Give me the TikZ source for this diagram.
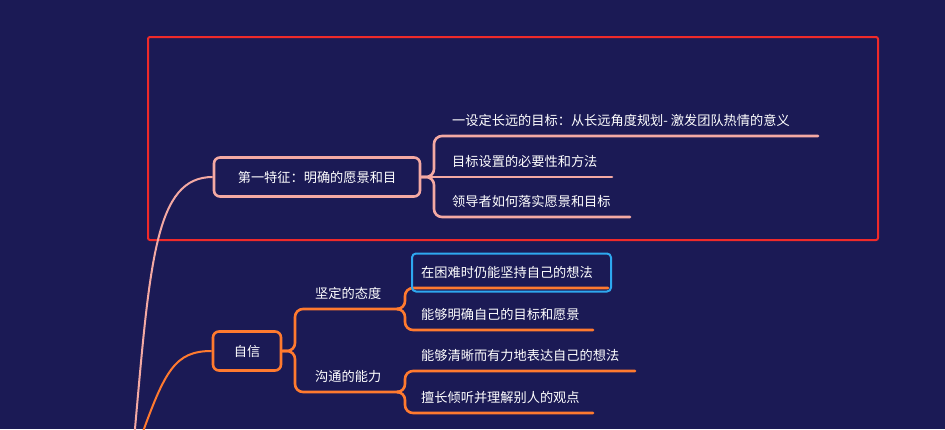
\documentclass[tikz,border=0pt]{standalone}
\usepackage{fontspec}
\newfontfamily\cjk{Noto Sans CJK SC}
\definecolor{bg}{HTML}{1B1A55}
\definecolor{pk}{HTML}{F4A9A3}
\definecolor{org}{HTML}{FF7A2F}
\definecolor{rd}{HTML}{F02A2A}
\definecolor{bl}{HTML}{2EA8F0}
\tikzset{
  lbl/.style={text=white,font=\cjk\fontsize{13.2}{15}\selectfont,anchor=south west,inner sep=0pt},
  pkl/.style={draw=pk,line width=2.6pt,line cap=round,rounded corners=8pt},
  orl/.style={draw=org,line width=2.6pt,line cap=round,rounded corners=8pt},
  topic/.style={rounded corners=6pt,line width=2.6pt,text=white,font=\cjk\fontsize{13.2}{15}\selectfont,minimum height=39pt,fill=bg}
}
\begin{document}
\begin{tikzpicture}[x=1pt,y=-1pt]
\fill[bg] (0,0) rectangle (945,429);
\useasboundingbox (0,0) rectangle (945,429);
\draw[rd,line width=2pt,rounded corners=2pt] (148,37) rectangle (878,240);
% pink branch
\coordinate (p0) at (134,440);
\coordinate (o0) at (140,440);
\node[topic,draw=pk,minimum width=206pt] (n1) at (317,177) {第一特征：明确的愿景和目};
\draw[pk,line width=2pt] (p0) .. controls (150,260) and (155,177) .. (n1.west);
\coordinate (a1) at (818,136);\coordinate (a2) at (612,177);\coordinate (a3) at (630,217);
\draw[pkl] (n1.east) -- (434,177) |- (a1);
\draw[pkl] (n1.east) -- (a2);
\draw[pkl] (n1.east) -- (434,177) |- (a3);
\node[lbl] (t1) at (452,127) {一设定长远的目标：从长远角度规划- 激发团队热情的意义};
\node[lbl] (t2) at (452,168) {目标设置的必要性和方法};
\node[lbl] (t3) at (452,208) {领导者如何落实愿景和目标};
% orange branch
\node[topic,draw=org,minimum width=68pt] (n2) at (247,351) {自信};
\draw[org,line width=2pt] (o0) .. controls (165,370) and (175,351) .. (n2.west);
\coordinate (b1) at (400,309);\coordinate (b2) at (400,392);
\draw[orl] (n2.east) -- (295,351) |- (b1);
\draw[orl] (n2.east) -- (295,351) |- (b2);
\node[lbl] (s1) at (315,300) {坚定的态度};
\node[lbl] (s2) at (315,383) {沟通的能力};
\coordinate (c1) at (608,288);\coordinate (c2) at (593,330);
\coordinate (c3) at (635,371);\coordinate (c4) at (593,413);
\draw[orl] (b1) -- (405,309) |- (c1);
\draw[orl] (b1) -- (405,309) |- (c2);
\draw[orl] (b2) -- (405,392) |- (c3);
\draw[orl] (b2) -- (405,392) |- (c4);
\node[draw=bl,line width=2pt,rounded corners=4pt,minimum width=199pt,minimum height=38pt] (hl) at (511.5,272.5) {};
\node[lbl] (u1) at (421,279) {在困难时仍能坚持自己的想法};
\node[lbl] (u2) at (421,321) {能够明确自己的目标和愿景};
\node[lbl] (u3) at (421,362) {能够清晰而有力地表达自己的想法};
\node[lbl] (u4) at (421,404) {擅长倾听并理解别人的观点};
\end{tikzpicture}
\end{document}
